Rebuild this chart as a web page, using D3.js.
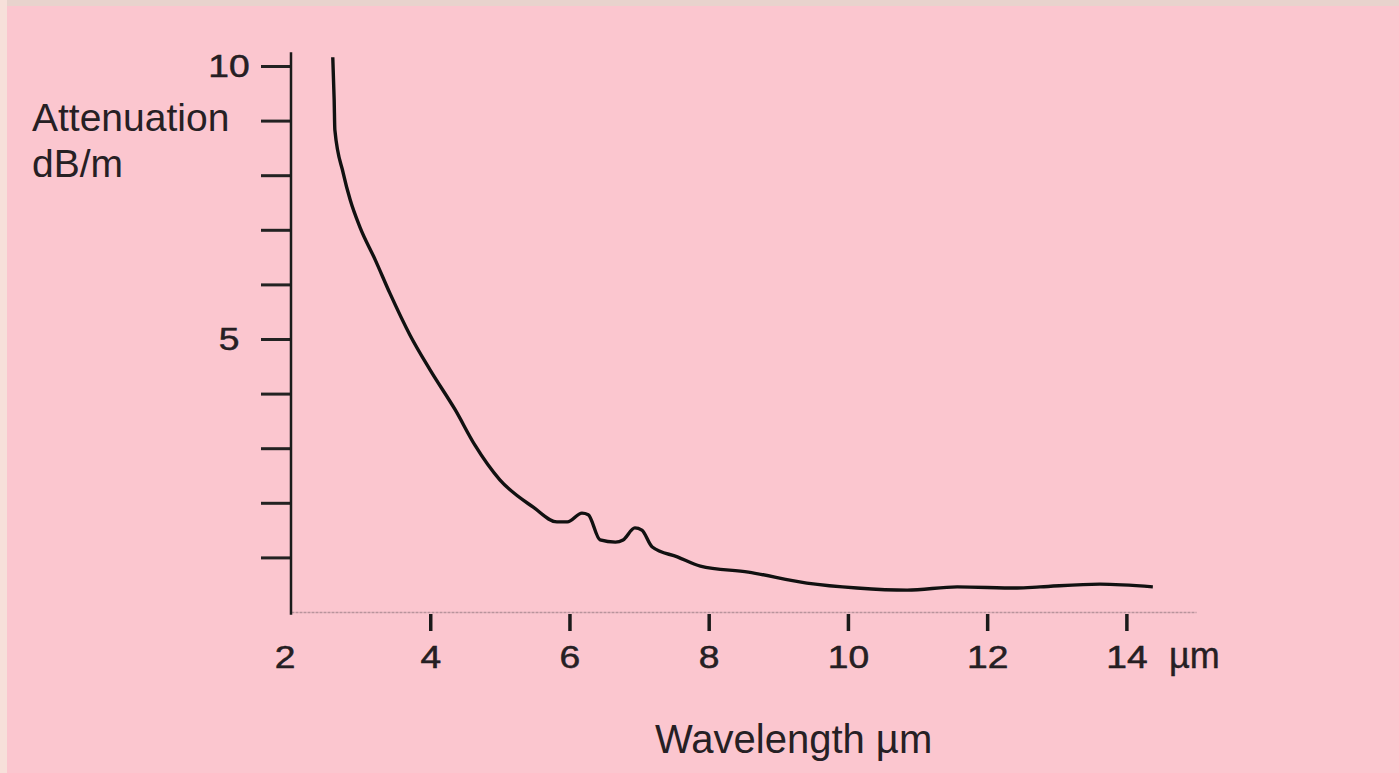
<!DOCTYPE html>
<html>
<head>
<meta charset="utf-8">
<script src="https://cdn.jsdelivr.net/npm/d3@7"></script>
<style>
  body { margin: 0; background: #fbc6cf; }
  svg { display: block; }
  text { font-family: "Liberation Sans", Arial, sans-serif; fill: #262024; }
</style>
</head>
<body>
<svg></svg>
<script>
// wavelength (µm) and attenuation (dB/m)
const wavelength = [2.60, 2.62, 2.63, 2.75, 2.85, 2.99, 3.21, 3.42, 3.71, 4.00, 4.36, 4.64, 5.00, 5.48, 5.82, 5.97, 6.18, 6.27, 6.44, 6.66, 6.77, 6.94, 7.04, 7.19, 7.55, 7.88, 8.57, 9.41, 10.13, 10.85, 11.57, 12.43, 12.76, 13.62, 14.38];
const attenuation = [10.16, 9.38, 8.83, 8.04, 7.55, 7.05, 6.45, 5.84, 5.07, 4.43, 3.70, 3.06, 2.42, 1.92, 1.65, 1.65, 1.81, 1.78, 1.32, 1.28, 1.32, 1.54, 1.50, 1.19, 1.01, 0.84, 0.73, 0.53, 0.44, 0.40, 0.46, 0.44, 0.46, 0.51, 0.46];

const xTicks = [2, 4, 6, 8, 10, 12, 14];
const yTicks = [1, 2, 3, 4, 5, 6, 7, 8, 9, 10];
const yTickLabels = { 5: "5", 10: "10" };

const W = 1399, H = 773;
const svg = d3.select("svg").attr("width", W).attr("height", H);

// scanned page border
svg.append("rect").attr("x", 0).attr("y", 0).attr("width", W).attr("height", H).attr("fill", "#fbc6cf");
svg.append("rect").attr("x", 0).attr("y", 0).attr("width", W).attr("height", 6).attr("fill", "#e8d3cd");
svg.append("rect").attr("x", 0).attr("y", 0).attr("width", 7).attr("height", H).attr("fill", "#f7e0da");

const x = d3.scaleLinear().domain([2, 15]).range([291, 1196]);
const y = d3.scaleLinear().domain([0, 10]).range([612, 66]);

// x axis
const xAxis = d3.axisBottom(x).tickValues(xTicks).tickSize(0).tickPadding(0).tickFormat(d => d);
const gx = svg.append("g").attr("transform", `translate(0,${y(0)})`).call(xAxis);
gx.select(".domain").attr("stroke", "#b8949c").attr("stroke-width", 1.3).attr("stroke-dasharray", "3,1");
gx.selectAll(".tick").filter(d => d !== 2).append("line")
  .attr("y1", 2).attr("y2", 19)
  .attr("stroke", "#1a1a1a").attr("stroke-width", 3.5);
gx.selectAll(".tick text")
  .attr("y", 0).attr("dy", null)
  .attr("transform", "translate(0,56) scale(1.2,1)")
  .attr("fill", "#1e1a1c")
  .attr("stroke", "#1e1a1c").attr("stroke-width", 0.5)
  .style("font-size", "31px");
gx.selectAll(".tick").filter(d => d === 2).attr("transform", `translate(${x(2) - 6},0)`);
gx.selectAll(".tick").filter(d => d === 14).append("text")
  .attr("x", 42).attr("y", 56)
  .attr("text-anchor", "start")
  .attr("fill", "#1e1a1c")
  .attr("stroke", "#1e1a1c").attr("stroke-width", 0.4)
  .style("font-size", "36px")
  .text("µm");

// y axis
const yAxis = d3.axisLeft(y).tickValues(yTicks).tickSize(30).tickPadding(0).tickFormat(d => yTickLabels[d] || "");
const gy = svg.append("g").attr("transform", `translate(${x(2)},0)`).call(yAxis);
gy.select(".domain").remove();
gy.append("line")
  .attr("y1", y(-0.05)).attr("y2", y(10.25))
  .attr("stroke", "#1a1a1a").attr("stroke-width", 2.5);
gy.selectAll(".tick line").attr("stroke", "#222").attr("stroke-width", 3);
gy.selectAll(".tick text")
  .attr("x", 0).attr("dy", null)
  .attr("text-anchor", "middle")
  .attr("dominant-baseline", "central")
  .attr("transform", "translate(-62,0) scale(1.2,1)")
  .attr("fill", "#1e1a1c")
  .attr("stroke", "#1e1a1c").attr("stroke-width", 0.5)
  .style("font-size", "31px");

// axis titles
svg.append("text").attr("x", 32).attr("y", 131).style("font-size", "39px").text("Attenuation");
svg.append("text").attr("x", 32).attr("y", 177).style("font-size", "39px").text("dB/m");
svg.append("text").attr("x", 655).attr("y", 753).style("font-size", "40px").text("Wavelength µm");

// curve
const points = wavelength.map((w, i) => ({ w, a: attenuation[i] }));
const line = d3.line()
  .x(d => x(d.w))
  .y(d => y(d.a))
  .curve(d3.curveMonotoneX);

svg.append("path")
  .datum(points)
  .attr("fill", "none")
  .attr("stroke", "#111")
  .attr("stroke-width", 3.4)
  .attr("stroke-linejoin", "round")
  .attr("d", line);
</script>
</body>
</html>
